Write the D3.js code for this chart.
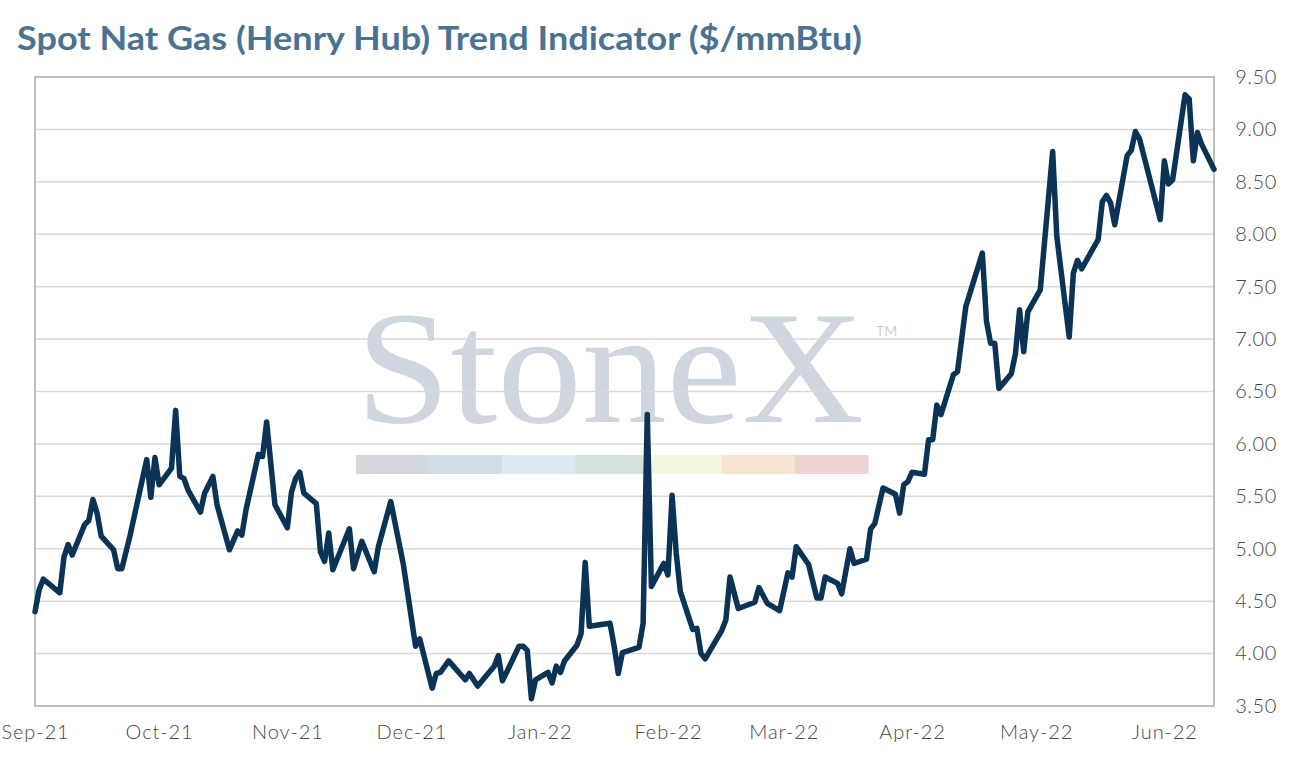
<!DOCTYPE html>
<html>
<head>
<meta charset="utf-8">
<script src="https://cdn.jsdelivr.net/npm/d3@7"></script>
<style>
  html, body { margin: 0; padding: 0; background: #fff; }
  #chart { width: 1291px; height: 766px; }
</style>
</head>
<body>
<div id="chart"></div>
<script>
// daily spot prices
const dates = [
  "2021-09-01","2021-09-02","2021-09-03","2021-09-07","2021-09-08","2021-09-09","2021-09-10",
  "2021-09-13","2021-09-14","2021-09-15","2021-09-16","2021-09-17","2021-09-20","2021-09-21",
  "2021-09-22","2021-09-24","2021-09-28","2021-09-29","2021-09-30","2021-10-01","2021-10-04",
  "2021-10-05","2021-10-06","2021-10-07","2021-10-08","2021-10-11","2021-10-12","2021-10-14",
  "2021-10-15","2021-10-18","2021-10-20","2021-10-21","2021-10-22","2021-10-25","2021-10-26",
  "2021-10-27","2021-10-29","2021-11-01","2021-11-02","2021-11-03","2021-11-04","2021-11-05",
  "2021-11-08","2021-11-09","2021-11-10","2021-11-11","2021-11-12","2021-11-16","2021-11-17",
  "2021-11-19","2021-11-22","2021-11-23","2021-11-26","2021-11-29","2021-12-02","2021-12-03",
  "2021-12-06","2021-12-07","2021-12-08","2021-12-10","2021-12-14","2021-12-15","2021-12-17",
  "2021-12-21","2021-12-22","2021-12-23","2021-12-27","2021-12-28","2021-12-29","2021-12-30",
  "2021-12-31","2022-01-03","2022-01-04","2022-01-05","2022-01-06","2022-01-07","2022-01-10",
  "2022-01-11","2022-01-12","2022-01-13","2022-01-18","2022-01-19","2022-01-20","2022-01-21",
  "2022-01-25","2022-01-26","2022-01-27","2022-01-28","2022-01-31","2022-02-01","2022-02-02",
  "2022-02-03","2022-02-04","2022-02-07","2022-02-08","2022-02-09","2022-02-10","2022-02-14",
  "2022-02-15","2022-02-16","2022-02-18","2022-02-22","2022-02-23","2022-02-25","2022-02-28",
  "2022-03-02","2022-03-03","2022-03-04","2022-03-07","2022-03-09","2022-03-10","2022-03-11",
  "2022-03-14","2022-03-15","2022-03-17","2022-03-18","2022-03-21","2022-03-22","2022-03-23",
  "2022-03-25","2022-03-28","2022-03-29","2022-03-30","2022-03-31","2022-04-01","2022-04-04",
  "2022-04-05","2022-04-06","2022-04-07","2022-04-08","2022-04-11","2022-04-12","2022-04-14",
  "2022-04-18","2022-04-19","2022-04-20","2022-04-21","2022-04-22","2022-04-25","2022-04-26",
  "2022-04-27","2022-04-28","2022-04-29","2022-05-02","2022-05-05","2022-05-06","2022-05-09",
  "2022-05-10","2022-05-11","2022-05-12","2022-05-16","2022-05-17","2022-05-18","2022-05-19",
  "2022-05-20","2022-05-23","2022-05-24","2022-05-25","2022-05-26","2022-05-31","2022-06-01",
  "2022-06-02","2022-06-03","2022-06-06","2022-06-07","2022-06-08","2022-06-09","2022-06-10",
  "2022-06-13"
];
const prices = [
  4.40,4.61,4.71,4.58,4.92,5.04,4.94,
  5.23,5.27,5.47,5.34,5.12,4.99,4.81,
  4.81,5.13,5.85,5.49,5.87,5.61,5.77,
  6.32,5.69,5.67,5.56,5.35,5.53,5.69,
  5.42,4.99,5.17,5.13,5.37,5.90,5.88,
  6.21,5.42,5.20,5.54,5.67,5.73,5.53,
  5.43,4.97,4.88,5.15,4.80,5.19,4.81,
  5.07,4.78,5.02,5.45,4.86,4.07,4.14,
  3.67,3.81,3.82,3.93,3.75,3.81,3.69,
  3.88,3.98,3.74,4.07,4.07,4.03,3.57,
  3.75,3.82,3.72,3.88,3.82,3.93,4.08,
  4.19,4.87,4.26,4.29,4.07,3.81,4.01,
  4.06,4.29,6.28,4.64,4.86,4.75,5.51,
  4.96,4.59,4.23,4.24,4.00,3.95,4.22,
  4.32,4.73,4.43,4.49,4.63,4.48,4.41,
  4.77,4.73,5.02,4.85,4.53,4.53,4.73,
  4.67,4.57,5.00,4.86,4.90,5.19,5.24,
  5.58,5.52,5.34,5.61,5.64,5.73,5.71,
  6.04,6.04,6.37,6.28,6.66,6.69,7.31,
  7.82,7.17,6.96,6.96,6.53,6.67,6.86,
  7.28,6.88,7.26,7.47,8.79,7.98,7.02,
  7.63,7.75,7.67,7.95,8.31,8.37,8.30,
  8.09,8.75,8.80,8.98,8.91,8.14,8.70,
  8.48,8.52,9.33,9.29,8.70,8.97,8.86,
  8.62
];
const monthTicks = ["2021-09-01","2021-10-01","2021-11-01","2021-12-01","2022-01-01",
  "2022-02-01","2022-03-01","2022-04-01","2022-05-01","2022-06-01"];
const yTicks = [3.5,4,4.5,5,5.5,6,6.5,7,7.5,8,8.5,9,9.5];
const logoColors = ["#d3d8df","#d3dde7","#dde9f3","#d5e3dc","#f7f5dd","#f8e5cf","#f0d4d5"];

const title = "Spot Nat Gas (Henry Hub) Trend Indicator ($/mmBtu)";
const width = 1291, height = 766;
const margin = {top: 77, right: 77, bottom: 60, left: 35};
const labelFont = "Lato, 'Open Sans', sans-serif";

const parse = d3.timeParse("%Y-%m-%d");
const series = dates.map((d, i) => ({date: parse(d), value: prices[i]}));

const svg = d3.select("#chart").append("svg")
    .attr("width", width)
    .attr("height", height);

const x = d3.scaleTime()
    .domain([parse("2021-09-01"), parse("2022-06-13")])
    .range([margin.left, width - margin.right]);

const y = d3.scaleLinear()
    .domain([3.5, 9.5])
    .range([height - margin.bottom, margin.top]);

svg.append("text")
    .attr("x", 17)
    .attr("y", 50)
    .attr("fill", "#4b7390")
    .attr("font-family", labelFont)
    .attr("font-size", 32)
    .attr("font-weight", 700)
    .attr("textLength", 845)
    .attr("lengthAdjust", "spacingAndGlyphs")
    .text(title);

// StoneX watermark
const wm = svg.append("g");
wm.append("text")
    .attr("x", 356)
    .attr("y", 422)
    .attr("font-family", "'Liberation Serif', 'DejaVu Serif', serif")
    .attr("font-size", 160)
    .attr("textLength", 508)
    .attr("lengthAdjust", "spacingAndGlyphs")
    .attr("fill", "#cfd6df")
    .text("StoneX");
wm.append("text")
    .attr("x", 876)
    .attr("y", 336)
    .attr("font-family", labelFont)
    .attr("font-size", 14)
    .attr("fill", "#c9d0d9")
    .text("TM");
const band = d3.scaleBand().domain(d3.range(logoColors.length)).range([356, 868]);
wm.selectAll("rect")
    .data(logoColors)
    .join("rect")
    .attr("x", (d, i) => band(i))
    .attr("y", 455)
    .attr("width", band.bandwidth() + 0.5)
    .attr("height", 19)
    .attr("fill", d => d);

// gridlines
svg.append("g")
    .selectAll("line")
    .data(yTicks)
    .join("line")
    .attr("x1", margin.left)
    .attr("x2", width - margin.right)
    .attr("y1", d => y(d))
    .attr("y2", d => y(d))
    .attr("stroke", "#d9d9d9")
    .attr("stroke-width", 1.5);

// frame
svg.append("rect")
    .attr("x", margin.left)
    .attr("y", margin.top)
    .attr("width", width - margin.left - margin.right)
    .attr("height", height - margin.top - margin.bottom)
    .attr("fill", "none")
    .attr("stroke", "#bfbfbf")
    .attr("stroke-width", 2);

// y axis labels on the right
const yAxis = svg.append("g")
    .attr("transform", `translate(${width - margin.right},0)`)
    .call(d3.axisRight(y).tickValues(yTicks).tickFormat(d3.format(".2f")).tickSize(0).tickPadding(63));
yAxis.select(".domain").remove();
yAxis.selectAll("text")
    .attr("text-anchor", "end")
    .attr("font-family", labelFont)
    .attr("font-weight", 300)
    .attr("font-size", 20)
    .attr("letter-spacing", 0.6)
    .attr("fill", "#474747");

// x axis labels
const xAxis = svg.append("g")
    .attr("transform", `translate(0,${height - margin.bottom})`)
    .call(d3.axisBottom(x).tickValues(monthTicks.map(parse)).tickFormat(d3.timeFormat("%b-%y")).tickSize(0).tickPadding(19));
xAxis.select(".domain").remove();
xAxis.selectAll("text")
    .attr("font-family", labelFont)
    .attr("font-weight", 300)
    .attr("font-size", 20)
    .attr("letter-spacing", 0.9)
    .attr("fill", "#474747");

const line = d3.line()
    .x(d => x(d.date))
    .y(d => y(d.value));

svg.append("path")
    .datum(series)
    .attr("d", line)
    .attr("fill", "none")
    .attr("stroke", "#0b3355")
    .attr("stroke-width", 5.5)
    .attr("stroke-linejoin", "round")
    .attr("stroke-linecap", "round");
</script>
</body>
</html>
